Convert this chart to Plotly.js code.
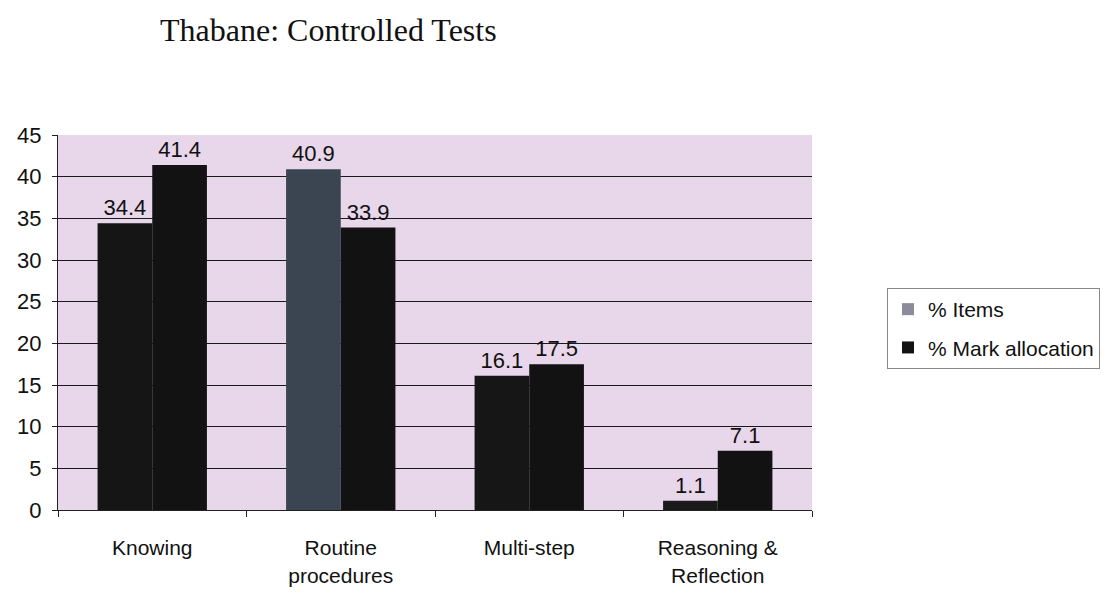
<!DOCTYPE html>
<html>
<head>
<meta charset="utf-8">
<script src="https://cdn.plot.ly/plotly-3.0.1.min.js"></script>
<style>html,body{margin:0;padding:0;background:#fff;}#chart{width:1116px;height:594px;}</style>
</head>
<body>
<div id="chart"></div>
<script>
var categories = ["Knowing", "Routine<br>procedures", "Multi-step", "Reasoning &<br>Reflection"];
var itemsValues = [34.4, 40.9, 16.1, 1.1];
var markValues = [41.4, 33.9, 17.5, 7.1];
var itemsColors = ["#151515", "#3b4552", "#161616", "#1a1a1a"];
var yTicks = [0, 5, 10, 15, 20, 25, 30, 35, 40, 45];

var labelFont = {family: "Liberation Sans, Arial, sans-serif", size: 22, color: "#111"};

var traces = [
  {
    type: "bar", x: [categories[0]], y: [null], name: "% Items", legendgroup: "a",
    marker: {color: "#8a8c9c"}, xaxis: "x2", yaxis: "y2", showlegend: true, hoverinfo: "skip"
  },
  {
    type: "bar", x: categories, y: itemsValues, name: "% Items", legendgroup: "a",
    marker: {color: itemsColors}, showlegend: false,
    text: itemsValues.map(String), textposition: "outside", cliponaxis: false,
    textfont: labelFont
  },
  {
    type: "bar", x: categories, y: markValues, name: "% Mark allocation", legendgroup: "b",
    marker: {color: "#121212"},
    text: markValues.map(String), textposition: "outside", cliponaxis: false,
    textfont: labelFont
  }
];

var layout = {
  width: 1116, height: 594,
  margin: {l: 58, r: 304, t: 135, b: 84},
  paper_bgcolor: "#ffffff",
  plot_bgcolor: "#e8d6ea",
  barmode: "group",
  bargap: 0.42,
  bargroupgap: 0,
  title: {
    text: "Thabane: Controlled Tests",
    font: {family: "Liberation Serif, Times New Roman, serif", size: 32, color: "#111"},
    x: 160 / 1116, xanchor: "left", y: 1 - 30 / 594, yanchor: "middle"
  },
  xaxis: {
    type: "category",
    showline: true, linecolor: "#222", linewidth: 1,
    ticks: "outside", tickson: "boundaries", ticklen: 6, tickcolor: "#222",
    showgrid: false,
    ticklabelstandoff: 19,
    tickfont: {family: "Liberation Sans, Arial, sans-serif", size: 21, color: "#111"}
  },
  yaxis: {
    range: [0, 45], tickvals: yTicks,
    showline: true, linecolor: "#222", linewidth: 1,
    ticks: "outside", ticklen: 5, tickcolor: "#222",
    ticklabelstandoff: 6,
    showgrid: true, gridcolor: "#1a1a1a", gridwidth: 1,
    zeroline: true, zerolinecolor: "#1a1a1a",
    tickfont: {family: "Liberation Sans, Arial, sans-serif", size: 22, color: "#111"}
  },
  xaxis2: {overlaying: "x", visible: false, type: "category"},
  yaxis2: {overlaying: "y", visible: false, range: [0, 45]},
  legend: {
    x: (887 - 58) / 754, xanchor: "left",
    y: (510 - 288) / 375, yanchor: "top",
    bgcolor: "#ffffff", bordercolor: "#888", borderwidth: 1,
    font: {family: "Liberation Sans, Arial, sans-serif", size: 21, color: "#111"},
    traceorder: "grouped", tracegroupgap: 8,
    itemwidth: 30
  },
  showlegend: true
};

Plotly.newPlot("chart", traces, layout, {displayModeBar: false, staticPlot: true});
</script>
</body>
</html>
